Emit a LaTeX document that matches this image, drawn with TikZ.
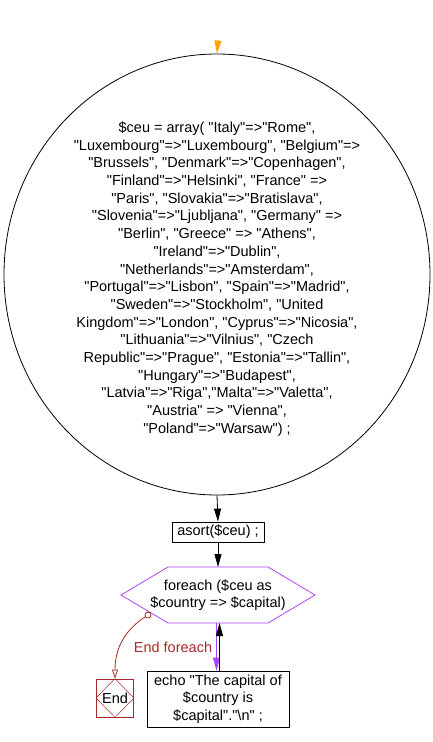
\documentclass[tikz,border=0pt]{standalone}
\usepackage{fontspec}
\setmainfont{Liberation Sans}[Ligatures=TeXOff]
\usetikzlibrary{shapes.geometric,arrows.meta,calc}
\definecolor{loopc}{RGB}{170,68,255}
\definecolor{endc}{RGB}{165,42,42}
\definecolor{startc}{RGB}{255,165,0}
\begin{document}
\begin{tikzpicture}[x=1pt,y=-1pt,
  txt/.style={font=\fontsize{14.5}{17.7}\selectfont, align=center, inner sep=0pt},
  procbox/.style={draw, line width=0.8pt, rectangle, inner sep=0pt, txt},
  flow/.style={line width=0.8pt, -{Triangle[length=13pt,width=7pt]}},
  loopline/.style={draw=loopc, line width=0.8pt}
]
\useasboundingbox (0,0) rectangle (433,742);
% start
\coordinate (start) at (218,40);
\node[draw, ellipse, line width=0.8pt, minimum width=426pt, minimum height=441pt, inner sep=0pt] (arr) at (217,274.5) {};
\node[txt] (arrtext) at (217,279) {\$ceu = array( "Italy"=>"Rome",\\
"Luxembourg"=>"Luxembourg", "Belgium"=>\\
"Brussels", "Denmark"=>"Copenhagen",\\
"Finland"=>"Helsinki", "France" =>\\
"Paris", "Slovakia"=>"Bratislava",\\
"Slovenia"=>"Ljubljana", "Germany" =>\\
"Berlin", "Greece" => "Athens",\\
"Ireland"=>"Dublin",\\
"Netherlands"=>"Amsterdam",\\
"Portugal"=>"Lisbon", "Spain"=>"Madrid",\\
"Sweden"=>"Stockholm", "United\\
Kingdom"=>"London", "Cyprus"=>"Nicosia",\\
"Lithuania"=>"Vilnius", "Czech\\
Republic"=>"Prague", "Estonia"=>"Tallin",\\
"Hungary"=>"Budapest",\\
"Latvia"=>"Riga","Malta"=>"Valetta",\\
"Austria" => "Vienna",\\
"Poland"=>"Warsaw") ;};
\draw[flow, draw=startc, fill=startc] (start) -- (arr.north);
% asort
\node[procbox, minimum width=92pt, minimum height=20pt] (asort) at (218,532) {asort(\$ceu) ;};
\draw[flow] (arr.south) -- (asort.north);
% hexagon
\node[txt] (loop) at (218,595) {foreach (\$ceu as\\ \$country => \$capital)};
\coordinate (hexN) at (218,567);
\coordinate (hexS) at (218,623);
\draw[loopline] (121,595) -- (168,567) -- (268,567) -- (315,595) -- (268,623) -- (168,623) -- cycle;
\draw[flow] (asort.south) -- (hexN);
% echo
\node[procbox, minimum width=142pt, minimum height=56pt] (echo) at (218,699) {echo "The capital of\\ \$country is\\ \$capital"."\textbackslash n" ;};
\draw[flow, draw=loopc, fill=loopc] ([xshift=-1.5pt]hexS) -- ([xshift=-1.5pt]echo.north);
\draw[flow] ([xshift=1.5pt]echo.north) -- ([xshift=1.5pt]hexS);
% end
\node[draw=endc, line width=0.8pt, rectangle, minimum width=37pt, minimum height=38pt, inner sep=0pt, txt] (endn) at (115,698) {End};
\draw[endc, line width=0.5pt] (endn.north) -- (endn.east) -- (endn.south) -- (endn.west) -- cycle;
\node[draw=endc, circle, line width=0.8pt, minimum size=6pt, inner sep=0pt] (exitc) at (148,615) {};
\draw[endc, line width=0.8pt, -{Triangle[open, length=9pt, width=6pt]}] (exitc) .. controls (128,628) and (115,645) .. (endn.north);
\node[txt, text=endc] (endlbl) at (173,647) {End foreach};
\end{tikzpicture}
\end{document}
